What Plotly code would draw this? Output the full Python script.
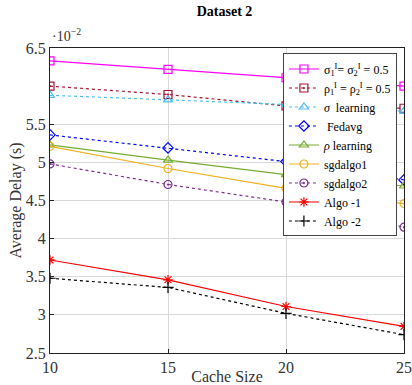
import plotly.graph_objects as go

cache_size = [10, 15, 20, 25]
sigma_fixed = [6.33, 6.22, 6.11, 6.00]
rho_fixed = [6.00, 5.89, 5.74, 5.71]
sigma_learning = [5.88, 5.82, 5.76, 5.67]
fedavg = [5.36, 5.19, 5.01, 4.77]
rho_learning = [5.23, 5.03, 4.84, 4.69]
sgdalgo1 = [5.21, 4.92, 4.66, 4.46]
sgdalgo2 = [4.98, 4.71, 4.48, 4.15]
algo1 = [3.72, 3.46, 3.11, 2.85]
algo2 = [3.48, 3.36, 3.02, 2.74]
y_ticks = [2.5, 3, 3.5, 4, 4.5, 5, 5.5, 6.5]
x_ticks = [10, 15, 20, 25]

series = [
    ("σ<sub>1</sub><sup>I</sup>= σ<sub>2</sub><sup>I</sup> = 0.5", sigma_fixed, "#FF00FF", "solid", "square-open"),
    ("ρ<sub>1</sub><sup>I</sup> = ρ<sub>2</sub><sup>I</sup> = 0.5", rho_fixed, "#A2142F", "dot", "square-open-dot"),
    ("<i>σ</i>  learning", sigma_learning, "#4DBEEE", "dot", "triangle-up-open"),
    (" Fedavg", fedavg, "#0000FF", "dot", "diamond-open"),
    ("<i>ρ</i> learning", rho_learning, "#77AC30", "solid", "triangle-up-open"),
    ("sgdalgo1", sgdalgo1, "#EDB120", "solid", "circle-open"),
    ("sgdalgo2", sgdalgo2, "#7E2F8E", "dot", "circle-open-dot"),
    ("Algo -1", algo1, "#FF0000", "solid", "asterisk-open"),
    ("Algo -2", algo2, "#000000", "dot", "cross-thin-open"),
]

fig = go.Figure()
for name, vals, color, dash, sym in series:
    fig.add_trace(go.Scatter(
        x=cache_size, y=vals, name=name, mode="lines+markers",
        line=dict(color=color, width=1.2, dash=dash),
        marker=dict(symbol=sym, size=8, color=color, line=dict(color=color, width=1.2)),
    ))

font_family = "Liberation Serif"
fig.update_layout(
    width=412, height=385,
    margin=dict(l=50, r=8, t=48, b=32, autoexpand=False),
    paper_bgcolor="white", plot_bgcolor="white",
    font=dict(family=font_family, size=16, color="#333"),
    title=dict(text="<b>Dataset 2</b>", x=0.545, xanchor="center", y=0.985, yanchor="top",
               font=dict(size=14, color="black")),
    xaxis=dict(range=[10, 25], tickvals=x_ticks, showgrid=True, gridcolor="#d9d9d9",
               showline=True, linecolor="#222", linewidth=1, mirror=True, automargin=False,
               ticks="inside", ticklen=4, tickcolor="#222",
               title=dict(text="Cache Size", standoff=0, font=dict(size=16))),
    yaxis=dict(range=[2.5, 6.5], tickvals=y_ticks, showgrid=True, gridcolor="#d9d9d9",
               showline=True, linecolor="#222", linewidth=1, mirror=True, automargin=False,
               ticks="inside", ticklen=4, tickcolor="#222",
               title=dict(text="Average Delay (s)", standoff=0, font=dict(size=16))),
    legend=dict(x=0.98, y=0.982, xanchor="right", yanchor="top",
                bgcolor="white", bordercolor="#444", borderwidth=1,
                font=dict(size=12, color="black"), tracegroupgap=0,
                itemwidth=30),
    showlegend=True,
)
fig.add_annotation(x=0, y=1, xref="paper", yref="paper", xanchor="left", yanchor="bottom",
                   text="·10<sup>−2</sup>", showarrow=False, font=dict(size=14), yshift=2)
fig.write_html("out.html", config={"displayModeBar": False},
               post_script="document.body.style.margin='0';")
